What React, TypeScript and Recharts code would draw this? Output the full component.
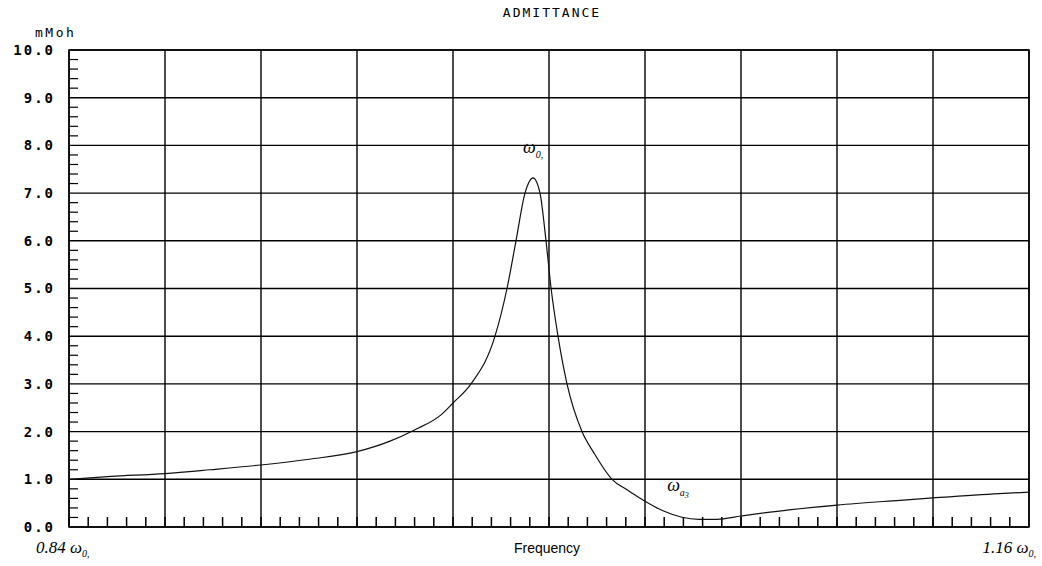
import React from 'react';
import { LineChart, Line, XAxis, YAxis, CartesianGrid, ReferenceArea, ReferenceDot, ReferenceLine } from 'recharts';

// frequency, as a fraction of w0
const freq = [
  0.84, 0.854, 0.872, 0.887, 0.904, 0.92, 0.936, 0.947, 0.955, 0.964, 0.968, 0.974,
  0.982, 0.986, 0.989, 0.992, 0.9947, 0.997, 0.999, 1.0007, 1.003, 1.006, 1.011, 1.015,
  1.021, 1.026, 1.032, 1.038, 1.044, 1.05, 1.056, 1.064, 1.08, 1.096, 1.117, 1.128, 1.15, 1.16,
];
// admittance, mMoh
const admittance = [
  1.0, 1.06, 1.12, 1.2, 1.3, 1.42, 1.58, 1.8, 2.03, 2.35, 2.6, 3.0,
  4.0, 5.0, 6.0, 7.0, 7.32, 7.0, 6.0, 5.0, 4.0, 3.0, 2.0, 1.55,
  1.0, 0.78, 0.54, 0.34, 0.21, 0.16, 0.16, 0.23, 0.36, 0.46, 0.56, 0.61, 0.7, 0.73,
];

const xMajor = [0.84, 0.872, 0.904, 0.936, 0.968, 1.0, 1.032, 1.064, 1.096, 1.128, 1.16];
const yMajor = [0, 1, 2, 3, 4, 5, 6, 7, 8, 9, 10];

const title = 'ADMITTANCE';
const yUnit = 'mMoh';
const xName = 'Frequency';

// 4 small ticks between each grid line
const xMinor: number[] = [];
for (let i = 0; i < 50; i++) xMinor.push(0.84 + (i * 0.032) / 5);
const yMinor: number[] = [];
for (let i = 1; i < 50; i++) if (i % 5 !== 0) yMinor.push(i * 0.2);

const data = freq.map((f, i) => ({ f, y: admittance[i] }));

const mono = '"DejaVu Sans Mono", monospace';
const serif = '"Liberation Serif", "DejaVu Serif", serif';

const NoTick = () => <g />;

function OmegaLabel(props: any) {
  const { viewBox, sub, small } = props;
  return (
    <text x={viewBox.x} y={viewBox.y} fontFamily={serif} fontStyle="italic" fontSize={18} fill="#000" textAnchor="middle">
      ω
      <tspan fontSize={10} dy={5}>{sub}</tspan>
      {small ? <tspan fontSize={8} dy={2}>{small}</tspan> : null}
    </text>
  );
}

export default function App() {
  return (
    <div style={{ position: 'absolute', left: 0, top: 0, width: 1042, height: 566, background: '#fff' }}>
      <LineChart width={1042} height={566} data={data} margin={{ top: 50, right: 13, bottom: 0, left: 0 }}>
        <CartesianGrid stroke="#000" strokeWidth={1.4} />
        <XAxis
          type="number"
          dataKey="f"
          domain={[0.84, 1.16]}
          ticks={xMajor}
          interval={0}
          height={39}
          tick={NoTick}
          tickLine={false}
          axisLine={false}
          allowDataOverflow
        />
        <XAxis
          xAxisId="minor"
          type="number"
          dataKey="f"
          domain={[0.84, 1.16]}
          ticks={xMinor}
          interval={0}
          mirror
          height={12}
          tick={NoTick}
          tickSize={10}
          axisLine={false}
          tickLine={{ stroke: '#000', strokeWidth: 1.5 }}
          allowDataOverflow
        />
        <YAxis
          type="number"
          domain={[0, 10]}
          ticks={yMajor}
          interval={0}
          width={69}
          axisLine={false}
          tickLine={false}
          tickSize={0}
          tickMargin={14}
          tickFormatter={(v: number) => v.toFixed(1)}
          tick={{ fill: '#000', fontFamily: mono, fontSize: 14, fontWeight: 'bold', letterSpacing: 2 }}
        />
        {yMinor.map((v) => (
          <ReferenceLine
            key={v}
            segment={[{ x: 0.84, y: v }, { x: 0.843, y: v }]}
            stroke="#000"
            strokeWidth={1.2}
          />
        ))}
        <ReferenceArea x1={0.84} x2={1.16} y1={0} y2={10} fill="none" stroke="#000" strokeWidth={1.5} />
        <Line type="monotone" dataKey="y" stroke="#111" strokeWidth={1.2} dot={false} isAnimationActive={false} />
        <ReferenceDot x={0.9947} y={7.85} r={0} label={{ content: (p: any) => <OmegaLabel {...p} sub="0," /> }} />
        <ReferenceDot x={1.043} y={0.75} r={0} label={{ content: (p: any) => <OmegaLabel {...p} sub="a" small="3" /> }} />
      </LineChart>
      <svg width={1042} height={566} style={{ position: 'absolute', left: 0, top: 0, pointerEvents: 'none' }}>
        <text x={552} y={17} textAnchor="middle" fontFamily={mono} fontSize={13} letterSpacing={2} fill="#000">
          {title}
        </text>
        <text x={35} y={37} fontFamily={mono} fontSize={13} letterSpacing={2.5} fill="#000">
          {yUnit}
        </text>
        <text x={36} y={553} fontFamily={serif} fontStyle="italic" fontSize={17} fill="#000">
          0.84 ω<tspan fontSize={10} dy={4}>0,</tspan>
        </text>
        <text x={547} y={553} textAnchor="middle" fontFamily='"Liberation Sans", Arial, sans-serif' fontSize={14} fill="#000">
          {xName}
        </text>
        <text x={1036} y={553} textAnchor="end" fontFamily={serif} fontStyle="italic" fontSize={17} fill="#000">
          1.16 ω<tspan fontSize={10} dy={4}>0,</tspan>
        </text>
      </svg>
    </div>
  );
}
